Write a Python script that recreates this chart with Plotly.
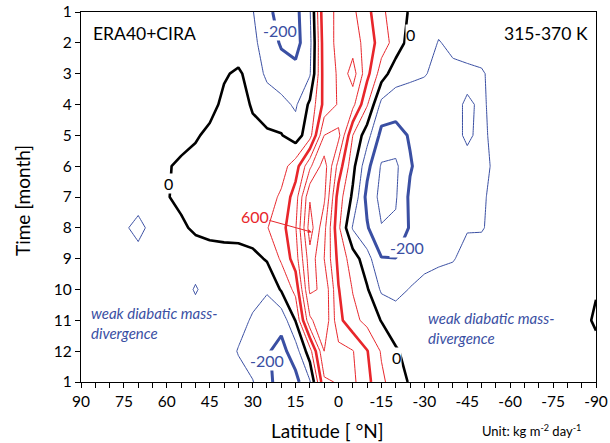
import plotly.graph_objects as go

# Latitude grid (deg N) and months (13 = January again)
lats = list(range(90, -91, -5))
months = list(range(1, 14))
month_labels = [str(m) for m in range(1, 13)] + ["1"]
lat_ticks = list(range(90, -91, -15))

# Diabatic mass flux (kg m-2 day-1), one row per month, columns = lats (90 .. -90)
m01 = [-30,-30,-35,-40,-40,-45,-50,-50,-55,-55,-60,-70,-95,-180,-230,-230,-110,280,310,320,230,120,50,-10,-40,-60,-60,-55,-50,-45,-40,-40,-35,-35,-30,-30,-30]
m02 = [-30,-30,-35,-40,-40,-45,-50,-50,-55,-55,-60,-60,-75,-150,-210,-235,-130,260,320,350,260,150,60,-40,-50,-105,-80,-60,-55,-50,-45,-40,-40,-35,-30,-30,-30]
m03 = [-30,-30,-35,-40,-40,-45,-45,-45,-45,-40,-10,15,-40,-120,-160,-170,-110,250,310,450,230,50,-60,-80,-95,-120,-120,-120,-110,-70,-50,-45,-40,-35,-30,-30,-30]
m04 = [-30,-30,-35,-40,-40,-40,-40,-40,-35,-30,20,40,-10,-50,-70,-115,20,230,310,330,110,-130,-150,-150,-140,-130,-120,-90,-110,-80,-50,-45,-40,-35,-30,-30,-30]
m05 = [-30,-30,-35,-40,-40,-40,-40,-40,-10,20,30,30,25,15,5,-50,60,400,430,100,-60,-230,-240,-190,-150,-130,-120,-90,-115,-80,-50,-45,-40,-35,-30,-30,-30]
m06 = [-35,-35,-40,-40,-40,-40,-10,20,30,35,40,40,40,45,60,150,380,550,260,30,-170,-310,-320,-210,-150,-130,-120,-120,-115,-90,-60,-45,-40,-35,-30,-30,-30]
m07 = [-35,-35,-40,-45,-40,-40,-5,20,35,40,45,50,55,60,115,250,590,520,150,-20,-230,-330,-310,-180,-140,-120,-115,-110,-110,-80,-55,-45,-40,-35,-30,-30,-30]
m08 = [-35,-40,-45,-80,-140,-60,-40,-15,15,30,40,50,60,95,160,290,650,430,120,-110,-190,-295,-285,-190,-130,-115,-110,-105,-105,-80,-55,-45,-40,-35,-30,-30,-30]
m09 = [-35,-35,-40,-40,-50,-45,-45,-50,-50,-45,-45,-50,-30,10,115,250,560,400,170,50,-60,-195,-198,-160,-130,-115,-105,-75,-70,-60,-50,-45,-40,-35,-30,-30,-30]
m10 = [-35,-35,-40,-40,-45,-45,-50,-50,-110,-55,-50,-60,-70,-90,10,130,520,480,205,95,10,-115,-130,-95,-70,-60,-60,-55,-50,-50,-45,-45,-40,-35,-40,-40,-10]
m11 = [-35,-35,-40,-40,-45,-45,-50,-50,-50,-50,-50,-70,-110,-150,-170,5,380,480,230,130,70,-5,-50,-55,-50,-50,-50,-50,-50,-50,-45,-45,-40,-40,-40,-40,20]
m12 = [-35,-35,-40,-40,-45,-45,-50,-50,-55,-55,-60,-105,-150,-190,-230,-150,60,400,330,305,205,90,10,-30,-40,-45,-50,-50,-50,-45,-45,-40,-40,-35,-35,-35,-40]
m13 = list(m01)

z = [m01, m02, m03, m04, m05, m06, m07, m08, m09, m10, m11, m12, m13]

RED = "#e8262b"
BLUE = "#3a4fa3"
BLACK = "#000000"


def contour(start, end, size, color, width):
    return go.Contour(
        x=lats, y=months, z=z,
        autocontour=False,
        contours=dict(coloring="lines", start=start, end=end, size=size, showlabels=False),
        colorscale=[[0, color], [1, color]],
        showscale=False,
        line=dict(width=width, smoothing=0),
        hoverinfo="skip",
    )


fig = go.Figure()
fig.add_trace(contour(-300, -100, 200, BLUE, 1))
fig.add_trace(contour(-200, -200, 100, BLUE, 3))
fig.add_trace(contour(100, 700, 100, RED, 1))
fig.add_trace(contour(200, 200, 100, RED, 2.6))
fig.add_trace(contour(0, 0, 100, BLACK, 2.6))

FONT = "Lato"


def note(text, x, y, color=BLACK, size=17, xanchor="center", italic=False, bg=None):
    fig.add_annotation(
        x=x, y=y, xref="x", yref="y", text=text, showarrow=False,
        xanchor=xanchor, yanchor="middle", align="left",
        font=dict(family=FONT, size=size, color=color, style="italic" if italic else "normal"),
        bgcolor=bg, borderpad=0,
    )


note("ERA40+CIRA", 86, 1.69, size=17.5, xanchor="left")
note("315-370 K", -87.6, 1.69, size=17.5, xanchor="right")
note("-200", 20.5, 1.6, color=BLUE, size=16, bg="white")
note("-200", -23.9, 8.63, color=BLUE, size=16, bg="white")
note("-200", 25, 12.29, color=BLUE, size=16, bg="white")
note("0", 59.5, 6.55, size=16, bg="white")
note("0", -25.2, 1.72, size=16, bg="white")
note("0", -20.4, 12.19, size=16, bg="white")
note("weak diabatic mass-<br>divergence", 86.7, 11.1, color=BLUE, size=15, xanchor="left", italic=True)
note("weak diabatic mass-<br>divergence", -30.8, 11.26, color=BLUE, size=15, xanchor="left", italic=True)

fig.add_annotation(
    x=9.3, y=8.14, xref="x", yref="y", ax=29.2, ay=7.63, axref="x", ayref="y",
    text="600", showarrow=True, arrowhead=2, arrowsize=0.8, arrowwidth=1, arrowcolor=RED,
    font=dict(family=FONT, size=16, color=RED), borderpad=0,
)

fig.add_annotation(
    x=0.478, y=-0.13, xref="paper", yref="paper", text="Latitude [ °N]", showarrow=False,
    font=dict(family=FONT, size=19, color=BLACK), xanchor="center", yanchor="middle",
)
fig.add_annotation(
    x=-0.114, y=0.49, xref="paper", yref="paper", text="Time [month]", showarrow=False,
    textangle=-90, font=dict(family=FONT, size=19, color=BLACK), xanchor="center", yanchor="middle",
)
fig.add_annotation(
    x=0.975, y=-0.13, xref="paper", yref="paper", text="Unit: kg m<sup>-2</sup> day<sup>-1</sup>",
    showarrow=False, font=dict(family=FONT, size=13, color=BLACK), xanchor="right", yanchor="middle",
)

fig.update_layout(
    width=610, height=443,
    margin=dict(l=81, r=14, t=12, b=61, autoexpand=False),
    paper_bgcolor="white", plot_bgcolor="white",
    font=dict(family=FONT, color=BLACK),
    showlegend=False,
    xaxis=dict(
        range=[90, -90], tickvals=lat_ticks, ticktext=[str(v) for v in lat_ticks],
        ticks="outside", ticklen=5, tickcolor=BLACK, tickwidth=1,
        minor=dict(dtick=5, ticks="outside", ticklen=5, tickcolor=BLACK, tickwidth=1),
        showline=True, linecolor=BLACK, linewidth=1.2, mirror=True, automargin=False,
        showgrid=False, zeroline=False, tickfont=dict(family=FONT, size=15.5, color=BLACK),
    ),
    yaxis=dict(
        range=[13, 1], tickvals=months, ticktext=month_labels,
        ticks="outside", ticklen=5, tickcolor=BLACK, tickwidth=1,
        showline=True, linecolor=BLACK, linewidth=1.2, mirror=True, automargin=False,
        showgrid=False, zeroline=False, tickfont=dict(family=FONT, size=15.5, color=BLACK),
    ),
)

fig.write_html(
    "out.html",
    config={"displayModeBar": False},
    post_script="document.body.style.margin='0';document.body.style.padding='0';",
)
